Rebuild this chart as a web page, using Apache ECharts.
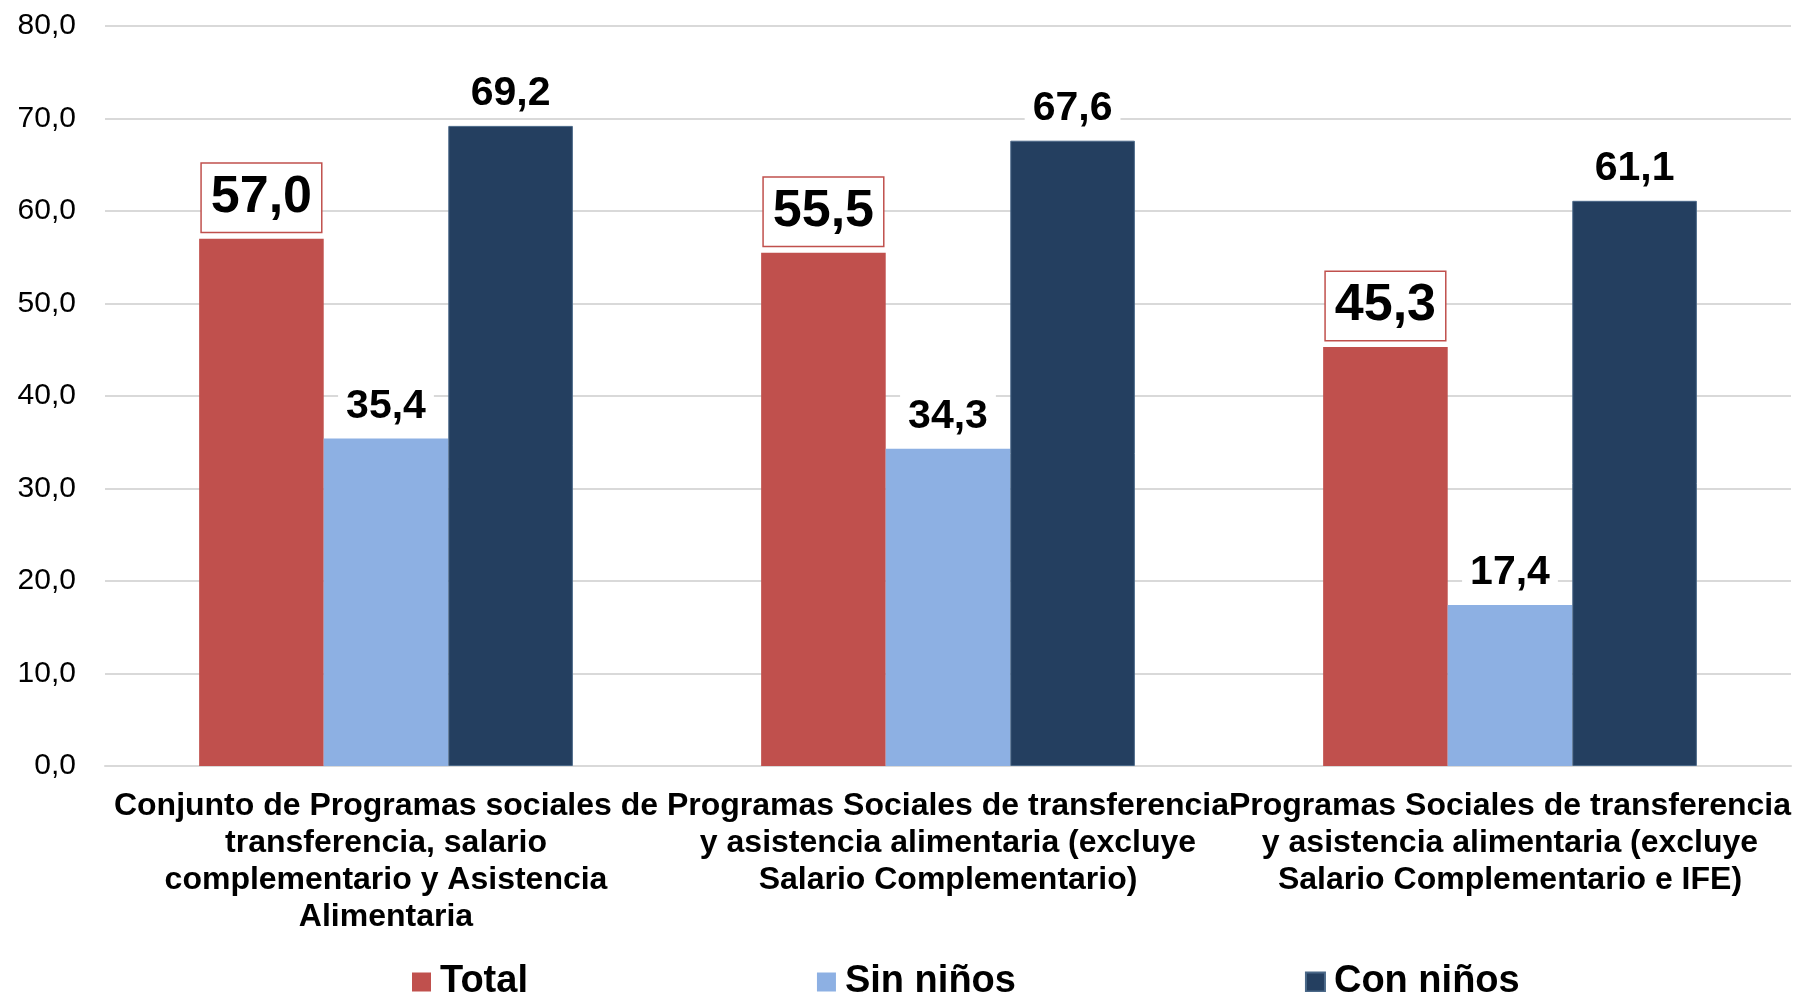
<!DOCTYPE html>
<html>
<head>
<meta charset="utf-8">
<script src="https://cdn.jsdelivr.net/npm/echarts@6/dist/echarts.min.js"></script>
<style>
html,body{margin:0;padding:0;background:#fff;}
#chart{width:1796px;height:992px;}
</style>
</head>
<body>
<div id="chart"></div>
<script>
const categories = [
  "Conjunto de Programas sociales de\ntransferencia, salario\ncomplementario y Asistencia\nAlimentaria",
  "Programas Sociales de transferencia\ny asistencia alimentaria (excluye\nSalario Complementario)",
  "Programas Sociales de transferencia\ny asistencia alimentaria (excluye\nSalario Complementario e IFE)"
];
const seriesNames = ["Total", "Sin niños", "Con niños"];
const totalValues = [57.0, 55.5, 45.3];
const sinNinosValues = [35.4, 34.3, 17.4];
const conNinosValues = [69.2, 67.6, 61.1];
const yMin = 0, yMax = 80, yInterval = 10;

const FONT = '"Liberation Sans", Arial, Helvetica, sans-serif';
const fmt = v => Number(v).toFixed(1).replace('.', ',');

const chart = echarts.init(document.getElementById('chart'));

const plainLabel = {
  show: true,
  position: 'top',
  distance: 10,
  formatter: p => fmt(p.value),
  fontFamily: FONT,
  fontSize: 41,
  fontWeight: 'bold',
  color: '#000',
  backgroundColor: '#fff',
  padding: [0, 8, 0, 8],
  lineHeight: 44
};

chart.setOption({
  animation: false,
  backgroundColor: '#fff',
  grid: { left: 105, right: 5, top: 26, bottom: 226, containLabel: false },
  legend: {
    data: seriesNames,
    left: 407,
    top: 958,
    itemWidth: 19,
    itemHeight: 19,
    itemGap: 289,
    icon: 'rect',
    textStyle: { fontFamily: FONT, fontSize: 38, fontWeight: 'bold', color: '#000', padding: [0,0,0,4] }
  },
  xAxis: {
    type: 'category',
    data: categories,
    axisLine: { show: true, lineStyle: { color: '#d9d9d9', width: 2 } },
    axisTick: { show: false },
    axisLabel: {
      interval: 0,
      margin: 22,
      fontFamily: FONT,
      fontSize: 32,
      fontWeight: 'bold',
      lineHeight: 37,
      color: '#000'
    }
  },
  yAxis: {
    type: 'value',
    min: yMin,
    max: yMax,
    interval: yInterval,
    axisLine: { show: false },
    axisTick: { show: false },
    splitLine: { lineStyle: { color: '#d9d9d9', width: 2 } },
    axisLabel: {
      margin: 29,
      formatter: v => fmt(v),
      fontFamily: FONT,
      fontSize: 30,
      color: '#000'
    }
  },
  series: [
    {
      name: seriesNames[0],
      type: 'bar',
      data: totalValues,
      barGap: '0%',
      barCategoryGap: '33.5%',
      itemStyle: { color: '#C0504D' },
      label: {
        show: true,
        position: 'top',
        distance: 7,
        formatter: p => fmt(p.value),
        fontFamily: FONT,
        fontSize: 52,
        fontWeight: 'bold',
        color: '#000',
        backgroundColor: '#fff',
        borderColor: '#C0504D',
        borderWidth: 1.5,
        padding: [4, 9, 4, 9],
        lineHeight: 60
      },
      z: 3
    },
    {
      name: seriesNames[1],
      type: 'bar',
      data: sinNinosValues,
      barGap: '0%',
      barCategoryGap: '33.5%',
      itemStyle: { color: '#8DB0E3' },
      label: plainLabel,
      z: 3
    },
    {
      name: seriesNames[2],
      type: 'bar',
      data: conNinosValues,
      barGap: '0%',
      barCategoryGap: '33.5%',
      itemStyle: { color: '#243F60', borderColor: '#4a6888', borderWidth: 1 },
      label: plainLabel,
      z: 3
    }
  ]
});
</script>
</body>
</html>
